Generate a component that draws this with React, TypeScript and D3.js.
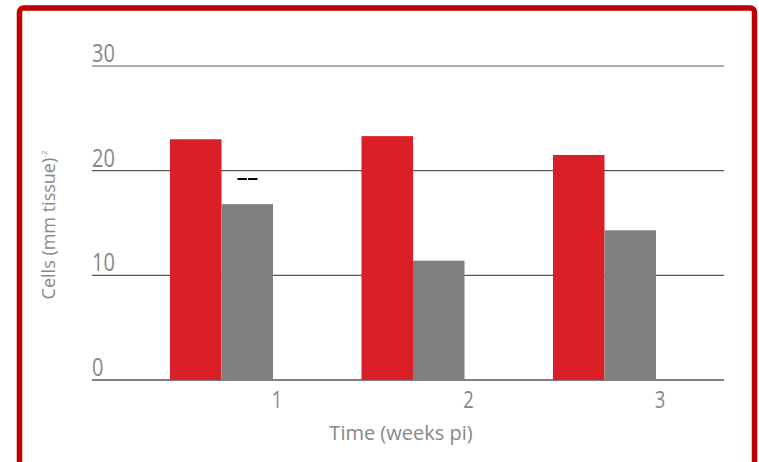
import React from "react";
import * as d3 from "d3";

const categories = ["1", "2", "3"];
const seriesA = [23.0, 23.3, 21.5];
const seriesB = [16.8, 11.4, 14.3];
const yTicks = [0, 10, 20, 30];

const tickFont = "Open Sans, DejaVu Sans";

function NarrowText({ x, y, anchor, size, children }: { x: number; y: number; anchor: string; size: number; children: React.ReactNode }) {
  return (
    <g transform={`translate(${x},${y}) scale(0.8,1)`}>
      <text x={0} y={0} textAnchor={anchor} fontFamily={tickFont} fontWeight={400} fontSize={size} fill="#888">{children}</text>
    </g>
  );
}

export default function App() {
  const W = 759, H = 462;
  const left = 92, right = 724, top = 66, bottom = 380;
  const y = d3.scaleLinear().domain([0, 30]).range([bottom, top]);
  const x = d3.scaleBand().domain(categories).range([125.75, 700.25]).paddingInner(0.462).paddingOuter(0.231);
  const bw = x.bandwidth() / 2;
  return (
    <svg width={W} height={H} style={{ position: "absolute", left: 0, top: 0 }}>
      <rect x={0} y={0} width={W} height={H} fill="#fff" />
      <rect x={19.5} y={8} width={735} height={470} rx={4} fill="none" stroke="#c00000" strokeWidth={5.5} />
      {yTicks.map((t) => (
        <g key={t}>
          <line x1={left} x2={right} y1={y(t)} y2={y(t)} stroke="#555" strokeWidth={t === 0 ? 1.5 : 1.2} />
          <NarrowText x={left} y={y(t) - 4} anchor="start" size={25}>{t}</NarrowText>
        </g>
      ))}
      {categories.map((c, i) => (
        <g key={c}>
          <rect x={x(c)!} y={y(seriesA[i])} width={bw} height={bottom - y(seriesA[i])} fill="#da1f26" />
          <rect x={x(c)! + bw} y={y(seriesB[i])} width={bw} height={bottom - y(seriesB[i])} fill="#808080" />
          <NarrowText x={x(c)! + 2 * bw + 4} y={408} anchor="middle" size={23}>{c}</NarrowText>
        </g>
      ))}
      <line x1={x("1")! + bw + 16} x2={x("1")! + bw + 25.5} y1={y(19.2)} y2={y(19.2)} stroke="#000" strokeWidth={2} />
      <line x1={x("1")! + bw + 26.5} x2={x("1")! + bw + 36} y1={y(19.2)} y2={y(19.2)} stroke="#000" strokeWidth={2} />
      <text x={401} y={440} textAnchor="middle" fontFamily="Open Sans" fontSize={20} fill="#888">Time (weeks pi)</text>
      <text transform="translate(55,225) rotate(-90)" textAnchor="middle" fontFamily="Open Sans" fontSize={18} fill="#888">
        Cells (mm tissue)<tspan fontSize={8} dy={-8}>-2</tspan>
      </text>
    </svg>
  );
}
